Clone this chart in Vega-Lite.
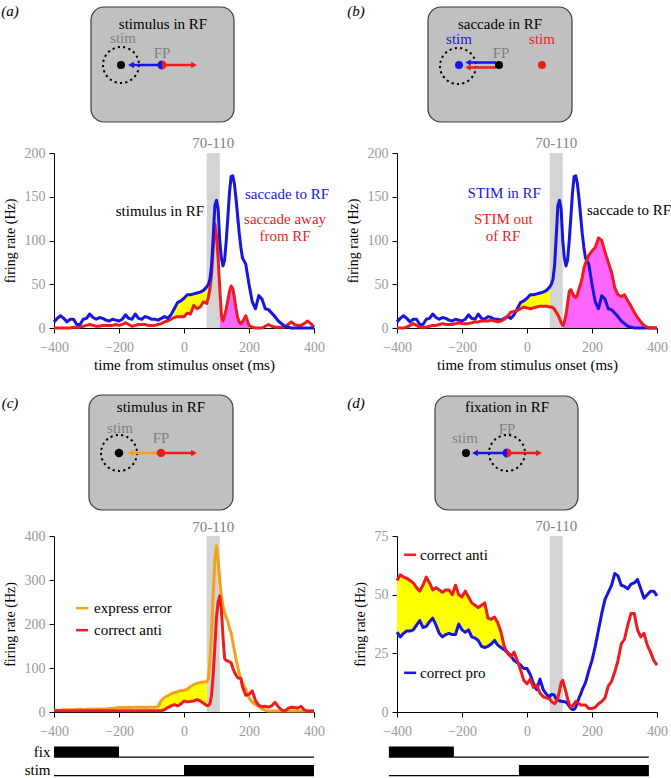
{
"$schema":"https://vega.github.io/schema/vega-lite/v6.json",
"padding":0,
"background":"white",
"columns":2,
"bounds":"flush",
"align":"each",
"spacing":{"row":0,"column":83},
"config":{
 "view":{"stroke":null},
 "font":"Liberation Serif",
 "axis":{"domainColor":"#000","tickColor":"#000","labelColor":"#999999","labelFont":"Liberation Serif","labelFontSize":14,"titleFont":"Liberation Serif","titleFontSize":14,"titleFontWeight":"normal","titleColor":"#000","grid":false,"tickSize":5,"labelPadding":4},
 "axisX":{"titlePadding":3,"labelPadding":7,"titleFontSize":15,"labelFlush":false},
 "axisY":{"titlePadding":7},
 "text":{"font":"Liberation Serif"}
},
"datasets":{
 "ab":[
{"t":-400,"blue":7,"redA":0,"redB":0},{"t":-390,"blue":11,"redA":0,"redB":0},{"t":-380,"blue":14,"redA":0,"redB":0},{"t":-370,"blue":11,"redA":0,"redB":1},{"t":-360,"blue":7,"redA":0,"redB":3},{"t":-350,"blue":10,"redA":0,"redB":5},{"t":-340,"blue":10,"redA":1,"redB":3},{"t":-330,"blue":4,"redA":1,"redB":1},{"t":-320,"blue":4,"redA":1,"redB":1},{"t":-310,"blue":10,"redA":2,"redB":1},{"t":-300,"blue":11,"redA":3,"redB":2},{"t":-290,"blue":16,"redA":4,"redB":3},{"t":-280,"blue":12,"redA":3,"redB":3},{"t":-270,"blue":10,"redA":2,"redB":4},{"t":-260,"blue":12,"redA":2,"redB":5},{"t":-250,"blue":11,"redA":3,"redB":4},{"t":-240,"blue":9,"redA":3,"redB":4},{"t":-230,"blue":8,"redA":3,"redB":4},{"t":-220,"blue":10,"redA":3,"redB":5},{"t":-210,"blue":9,"redA":4,"redB":6},{"t":-200,"blue":8,"redA":3,"redB":5},{"t":-190,"blue":10,"redA":4,"redB":5},{"t":-180,"blue":15,"redA":6,"redB":5},{"t":-170,"blue":11,"redA":4,"redB":6},{"t":-160,"blue":10,"redA":2,"redB":7},{"t":-150,"blue":16,"redA":3,"redB":7},{"t":-140,"blue":11,"redA":4,"redB":8},{"t":-130,"blue":10,"redA":4,"redB":8},{"t":-120,"blue":13,"redA":4,"redB":8},{"t":-110,"blue":12,"redA":3,"redB":9},{"t":-100,"blue":10,"redA":3,"redB":8},{"t":-90,"blue":10,"redA":3,"redB":7},{"t":-80,"blue":9,"redA":4,"redB":8},{"t":-70,"blue":11,"redA":5,"redB":10},{"t":-60,"blue":13,"redA":7,"redB":13},{"t":-50,"blue":11,"redA":8,"redB":18},{"t":-40,"blue":15,"redA":10,"redB":19},{"t":-30,"blue":22,"redA":12,"redB":20},{"t":-20,"blue":29,"redA":13,"redB":22},{"t":-10,"blue":31,"redA":13,"redB":24},{"t":0,"blue":34,"redA":13,"redB":23},{"t":10,"blue":38,"redA":17,"redB":22},{"t":20,"blue":38,"redA":16,"redB":23},{"t":30,"blue":39,"redA":26,"redB":24},{"t":40,"blue":40,"redA":22,"redB":25},{"t":50,"blue":41,"redA":24,"redB":25},{"t":60,"blue":43,"redA":30,"redB":25},{"t":70,"blue":47,"redA":28,"redB":24},
{"t":75,"blue":50,"redA":35,"redB":24},{"t":80,"blue":56,"redA":45,"redB":23},{"t":85,"blue":72,"redA":62,"redB":21},{"t":90,"blue":105,"redA":92,"redB":18},{"t":95,"blue":140,"redA":119,"redB":15},{"t":100,"blue":146,"redA":105,"redB":11},{"t":105,"blue":136,"redA":80,"redB":6},{"t":110,"blue":100,"redA":45,"redB":3},{"t":115,"blue":80,"redA":15,"redB":7},{"t":120,"blue":71,"redA":8,"redB":15},{"t":125,"blue":78,"redA":14,"redB":28},{"t":130,"blue":100,"redA":22,"redB":42},{"t":135,"blue":127,"redA":32,"redB":44},{"t":140,"blue":155,"redA":42,"redB":40},{"t":145,"blue":173,"redA":48,"redB":36},{"t":150,"blue":174,"redA":45,"redB":35},{"t":155,"blue":165,"redA":35,"redB":38},{"t":160,"blue":148,"redA":22,"redB":45},{"t":165,"blue":128,"redA":12,"redB":50},{"t":170,"blue":108,"redA":7,"redB":58},{"t":175,"blue":92,"redA":5,"redB":68},
{"t":180,"blue":80,"redA":7,"redB":74},{"t":190,"blue":73,"redA":14,"redB":83},{"t":200,"blue":50,"redA":3,"redB":88},{"t":210,"blue":30,"redA":1,"redB":92},{"t":220,"blue":22,"redA":0,"redB":103},{"t":230,"blue":37,"redA":0,"redB":100},{"t":240,"blue":33,"redA":0,"redB":87},{"t":250,"blue":22,"redA":2,"redB":75},{"t":260,"blue":21,"redA":4,"redB":64},{"t":270,"blue":17,"redA":2,"redB":46},{"t":280,"blue":13,"redA":1,"redB":38},{"t":290,"blue":8,"redA":1,"redB":36},{"t":300,"blue":5,"redA":1,"redB":38},{"t":310,"blue":2,"redA":1,"redB":31},{"t":320,"blue":1,"redA":4,"redB":25},{"t":330,"blue":0,"redA":7,"redB":18},{"t":340,"blue":0,"redA":4,"redB":12},{"t":350,"blue":0,"redA":3,"redB":7},{"t":360,"blue":0,"redA":3,"redB":3},{"t":370,"blue":0,"redA":5,"redB":1},{"t":380,"blue":0,"redA":8,"redB":0},{"t":390,"blue":0,"redA":5,"redB":0},{"t":400,"blue":0,"redA":1,"redB":0}
 ],
 "c":[
{"t":-400,"orange":4,"red":3},{"t":-390,"orange":4,"red":3},{"t":-380,"orange":4,"red":3},{"t":-370,"orange":5,"red":3},{"t":-360,"orange":5,"red":3},{"t":-350,"orange":5,"red":3},{"t":-340,"orange":5,"red":3},{"t":-330,"orange":6,"red":3},{"t":-320,"orange":6,"red":3},{"t":-310,"orange":5,"red":3},{"t":-300,"orange":6,"red":3},{"t":-290,"orange":6,"red":3},{"t":-280,"orange":7,"red":3},{"t":-270,"orange":6,"red":3},{"t":-260,"orange":7,"red":3},{"t":-250,"orange":7,"red":3},{"t":-240,"orange":7,"red":3},{"t":-230,"orange":8,"red":3},{"t":-220,"orange":8,"red":3},{"t":-210,"orange":9,"red":3},{"t":-200,"orange":10,"red":3},{"t":-190,"orange":10,"red":3},{"t":-180,"orange":10,"red":3},{"t":-170,"orange":11,"red":3},{"t":-160,"orange":10,"red":3},{"t":-150,"orange":11,"red":3},{"t":-140,"orange":11,"red":3},{"t":-130,"orange":11,"red":3},{"t":-120,"orange":10,"red":3},{"t":-110,"orange":11,"red":3},{"t":-100,"orange":11,"red":3},{"t":-90,"orange":11,"red":3},{"t":-80,"orange":12,"red":3},{"t":-70,"orange":26,"red":3},{"t":-60,"orange":33,"red":5},{"t":-50,"orange":37,"red":10},{"t":-40,"orange":41,"red":14},{"t":-30,"orange":44,"red":17},{"t":-20,"orange":46,"red":14},{"t":-10,"orange":49,"red":18},{"t":0,"orange":49,"red":25},{"t":10,"orange":52,"red":23},{"t":20,"orange":58,"red":24},{"t":30,"orange":62,"red":25},{"t":40,"orange":65,"red":28},{"t":50,"orange":67,"red":25},{"t":60,"orange":68,"red":20},{"t":70,"orange":69,"red":15},
{"t":75,"orange":75,"red":15},{"t":80,"orange":120,"red":19},{"t":85,"orange":185,"red":40},{"t":90,"orange":270,"red":87},{"t":95,"orange":345,"red":150},{"t":100,"orange":378,"red":216},{"t":105,"orange":345,"red":250},{"t":110,"orange":300,"red":264},{"t":115,"orange":265,"red":232},{"t":120,"orange":240,"red":170},{"t":125,"orange":225,"red":122},{"t":130,"orange":215,"red":117},{"t":135,"orange":205,"red":116},{"t":140,"orange":190,"red":114},{"t":145,"orange":180,"red":112},{"t":150,"orange":160,"red":100},{"t":155,"orange":140,"red":91},{"t":160,"orange":120,"red":84},{"t":165,"orange":103,"red":78},{"t":170,"orange":88,"red":77},{"t":175,"orange":76,"red":76},
{"t":180,"orange":66,"red":57},{"t":190,"orange":52,"red":38},{"t":200,"orange":32,"red":40},{"t":210,"orange":22,"red":48},{"t":220,"orange":17,"red":26},{"t":230,"orange":13,"red":15},{"t":240,"orange":7,"red":12},{"t":250,"orange":4,"red":13},{"t":260,"orange":2,"red":11},{"t":270,"orange":2,"red":14},{"t":280,"orange":2,"red":22},{"t":290,"orange":2,"red":12},{"t":300,"orange":2,"red":5},{"t":310,"orange":2,"red":2},{"t":320,"orange":2,"red":8},{"t":330,"orange":2,"red":11},{"t":340,"orange":2,"red":10},{"t":350,"orange":2,"red":9},{"t":360,"orange":2,"red":13},{"t":370,"orange":2,"red":5},{"t":380,"orange":2,"red":2},{"t":390,"orange":2,"red":2},{"t":400,"orange":2,"red":2}
 ],
 "d":[
{"t":-400,"red":56,"blue":34},{"t":-390,"red":58.5,"blue":32},{"t":-380,"red":57.5,"blue":33.5},{"t":-370,"red":57,"blue":34.5},{"t":-360,"red":56,"blue":34.5},{"t":-350,"red":55,"blue":35},{"t":-340,"red":53,"blue":37},{"t":-330,"red":51.5,"blue":39},{"t":-320,"red":54,"blue":36},{"t":-310,"red":57.5,"blue":36.5},{"t":-300,"red":55,"blue":38.5},{"t":-290,"red":52,"blue":40},{"t":-280,"red":53,"blue":37},{"t":-270,"red":52,"blue":33.5},{"t":-260,"red":51,"blue":32},{"t":-250,"red":52,"blue":33},{"t":-240,"red":52,"blue":33.5},{"t":-230,"red":50,"blue":33},{"t":-220,"red":54,"blue":33},{"t":-210,"red":50,"blue":37.5},{"t":-200,"red":49,"blue":35},{"t":-190,"red":51.5,"blue":34},{"t":-180,"red":49,"blue":35},{"t":-170,"red":46.5,"blue":32},{"t":-160,"red":45.5,"blue":31.5},{"t":-150,"red":44.5,"blue":30.5},{"t":-140,"red":45.5,"blue":28},{"t":-130,"red":46.5,"blue":27.5},{"t":-120,"red":40,"blue":28},{"t":-110,"red":39.5,"blue":29},{"t":-100,"red":40.5,"blue":30.5},{"t":-90,"red":38,"blue":28.5},{"t":-80,"red":34,"blue":27.5},{"t":-70,"red":28,"blue":26.5},{"t":-60,"red":25,"blue":25.5},{"t":-50,"red":23.5,"blue":24},{"t":-40,"red":25.5,"blue":22},{"t":-30,"red":22,"blue":21},{"t":-20,"red":18,"blue":20},{"t":-10,"red":13.5,"blue":18.5},{"t":0,"red":12,"blue":18.5},{"t":10,"red":14,"blue":16},{"t":20,"red":10.5,"blue":12},{"t":30,"red":11.5,"blue":9.5},{"t":40,"red":8,"blue":14},{"t":50,"red":6.5,"blue":9.5},{"t":60,"red":6,"blue":7.5},{"t":70,"red":5.5,"blue":6.5},
{"t":75,"red":4.5,"blue":7.5},{"t":80,"red":4,"blue":7.5},{"t":85,"red":3.5,"blue":7},{"t":90,"red":4.5,"blue":5.5},{"t":95,"red":6,"blue":5},{"t":100,"red":9,"blue":4.8},{"t":105,"red":12.5,"blue":4.6},{"t":110,"red":13.5,"blue":4.5},{"t":115,"red":11,"blue":4.4},{"t":120,"red":8.5,"blue":4.2},{"t":125,"red":5.5,"blue":3.5},{"t":130,"red":3.5,"blue":2.5},{"t":135,"red":2,"blue":1.5},{"t":140,"red":2.5,"blue":1},{"t":145,"red":3.5,"blue":1.2},{"t":150,"red":4.5,"blue":2},{"t":155,"red":4,"blue":4},{"t":160,"red":3.5,"blue":6},{"t":165,"red":3,"blue":7.5},{"t":170,"red":3,"blue":9.5},{"t":175,"red":3,"blue":11},
{"t":180,"red":3,"blue":12.5},{"t":190,"red":1.5,"blue":17.5},{"t":200,"red":1.5,"blue":22},{"t":210,"red":2,"blue":28},{"t":220,"red":3.5,"blue":35},{"t":230,"red":4.5,"blue":42},{"t":240,"red":6,"blue":48},{"t":250,"red":11,"blue":51},{"t":260,"red":13,"blue":54},{"t":270,"red":17,"blue":59},{"t":280,"red":22,"blue":58},{"t":290,"red":29,"blue":54},{"t":300,"red":31,"blue":53.5},{"t":310,"red":37,"blue":52.5},{"t":320,"red":42,"blue":54.5},{"t":330,"red":42,"blue":55},{"t":340,"red":35,"blue":56.5},{"t":350,"red":32,"blue":52.5},{"t":360,"red":33.5,"blue":48.5},{"t":370,"red":28.5,"blue":50},{"t":380,"red":25.5,"blue":51.5},{"t":390,"red":22,"blue":51.5},{"t":400,"red":20,"blue":49.5}
 ],
 "band":[{"start":70,"end":110}],
 "timeline":[
  {"signal":"fix","start":-400,"end":-200,"state":"on"},
  {"signal":"fix","start":-200,"end":400,"state":"off"},
  {"signal":"stim","start":-400,"end":0,"state":"off"},
  {"signal":"stim","start":0,"end":400,"state":"on"}
 ],
 "schemA":[
  {"kind":"anchor","x":0,"x2":1,"y":0,"y2":1},
  {"kind":"box","x":91,"x2":234,"y":7,"y2":122},
  {"kind":"ring","x":121,"y":65},
  {"kind":"arrow","x":162,"x2":131,"y":65,"hue":"blue","dir":"left"},
  {"kind":"arrow","x":162,"x2":194,"y":65,"hue":"red","dir":"right"},
  {"kind":"dot","x":121,"y":65,"hue":"black"},
  {"kind":"half","x":162,"y":65,"hue":"blue","side":"L"},
  {"kind":"half","x":162,"y":65,"hue":"red","side":"R"},
  {"kind":"text","x":163,"y":24,"text":"stimulus in RF","hue":"black"},
  {"kind":"text","x":123,"y":38,"text":"stim","hue":"gray"},
  {"kind":"text","x":162,"y":53,"text":"FP","hue":"gray"},
  {"kind":"tag","x":10,"y":11,"text":"(a)"}
 ],
 "schemB":[
  {"kind":"box","x":428,"x2":572,"y":7,"y2":122},
  {"kind":"ring","x":458,"y":66},
  {"kind":"arrow","x":496,"x2":468,"y":62.5,"hue":"blue","dir":"left"},
  {"kind":"arrow","x":496,"x2":468,"y":67.5,"hue":"red","dir":"left"},
  {"kind":"dot","x":459,"y":65,"hue":"blue"},
  {"kind":"dot","x":499,"y":65,"hue":"black"},
  {"kind":"dot","x":542,"y":65,"hue":"red"},
  {"kind":"text","x":500,"y":24,"text":"saccade in RF","hue":"black"},
  {"kind":"text","x":459,"y":39,"text":"stim","hue":"blue"},
  {"kind":"text","x":542,"y":39,"text":"stim","hue":"red"},
  {"kind":"text","x":501,"y":53,"text":"FP","hue":"gray"},
  {"kind":"tag","x":356,"y":11,"text":"(b)"}
 ],
 "schemC":[
  {"kind":"box","x":89,"x2":233,"y":395,"y2":510},
  {"kind":"ring","x":119,"y":453},
  {"kind":"arrow","x":161,"x2":131,"y":453,"hue":"orange","dir":"left"},
  {"kind":"arrow","x":161,"x2":194,"y":453,"hue":"red","dir":"right"},
  {"kind":"dot","x":119,"y":453,"hue":"black"},
  {"kind":"dot","x":161,"y":453,"hue":"red"},
  {"kind":"text","x":161,"y":407,"text":"stimulus in RF","hue":"black"},
  {"kind":"text","x":120,"y":428,"text":"stim","hue":"gray"},
  {"kind":"text","x":161,"y":438,"text":"FP","hue":"gray"},
  {"kind":"tag","x":10,"y":403,"text":"(c)"}
 ],
 "schemD":[
  {"kind":"box","x":435,"x2":578,"y":396,"y2":510},
  {"kind":"ring","x":507,"y":453},
  {"kind":"arrow","x":507,"x2":475,"y":453,"hue":"blue","dir":"left"},
  {"kind":"arrow","x":507,"x2":539,"y":453,"hue":"red","dir":"right"},
  {"kind":"dot","x":466,"y":453,"hue":"black"},
  {"kind":"half","x":507,"y":453,"hue":"blue","side":"L"},
  {"kind":"half","x":507,"y":453,"hue":"red","side":"R"},
  {"kind":"text","x":507,"y":407,"text":"fixation in RF","hue":"black"},
  {"kind":"text","x":465,"y":438,"text":"stim","hue":"gray"},
  {"kind":"text","x":507,"y":429,"text":"FP","hue":"gray"},
  {"kind":"tag","x":356,"y":403,"text":"(d)"}
 ]
},
"concat":[
 {
  "width":260,"height":153,
  "data":{"name":"schemA"},
  "resolve":{"scale":{"shape":"independent"}},
  "encoding":{
   "x":{"field":"x","type":"quantitative","scale":{"domain":[54,314],"nice":false,"zero":false},"axis":null},
   "y":{"field":"y","type":"quantitative","scale":{"domain":[0,153],"nice":false,"zero":false,"reverse":true},"axis":null}
  },
  "layer":[
   {"transform":[{"filter":"datum.kind==='anchor'"}],"mark":{"type":"rect","opacity":0},"encoding":{"x2":{"field":"x2"},"y2":{"field":"y2"}}},
   {"transform":[{"filter":"datum.kind==='box'"}],"mark":{"type":"rect","fill":"#c0c0c0","stroke":"#3c3c3c","strokeWidth":1.2,"cornerRadius":13},"encoding":{"x2":{"field":"x2"},"y2":{"field":"y2"}}},
   {"transform":[{"filter":"datum.kind==='ring'"}],"mark":{"type":"point","shape":"circle","size":1296,"filled":false,"stroke":"#000","strokeWidth":2,"strokeDash":[2.2,3.2],"opacity":1}},
   {"transform":[{"filter":"datum.kind==='arrow'"}],"mark":{"type":"rule","strokeWidth":2.5},"encoding":{"x2":{"field":"x2"},"color":{"field":"hue","type":"nominal","scale":{"domain":["blue","red","orange","gray","black"],"range":["#1616e0","#ee1c1c","#f5a01a","#808080","#000000"]},"legend":null}}},
   {"transform":[{"filter":"datum.kind==='arrow'"}],"mark":{"type":"point","filled":true,"opacity":1,"size":45},"encoding":{"x":{"field":"x2","type":"quantitative"},"color":{"field":"hue","type":"nominal","scale":{"domain":["blue","red","orange","gray","black"],"range":["#1616e0","#ee1c1c","#f5a01a","#808080","#000000"]},"legend":null},"shape":{"field":"dir","type":"nominal","scale":{"domain":["left","right"],"range":["triangle-left","triangle-right"]},"legend":null}}},
   {"transform":[{"filter":"datum.kind==='dot'"}],"mark":{"type":"point","filled":true,"opacity":1,"size":64,"shape":"circle"},"encoding":{"color":{"field":"hue","type":"nominal","scale":{"domain":["blue","red","orange","gray","black"],"range":["#1616e0","#ee1c1c","#f5a01a","#808080","#000000"]},"legend":null}}},
   {"transform":[{"filter":"datum.kind==='half'"}],"mark":{"type":"point","filled":true,"opacity":1,"size":81},"encoding":{"color":{"field":"hue","type":"nominal","scale":{"domain":["blue","red","orange","gray","black"],"range":["#1616e0","#ee1c1c","#f5a01a","#808080","#000000"]},"legend":null},"shape":{"field":"side","type":"nominal","scale":{"domain":["L","R"],"range":["M0,-1A1,1,0,0,0,0,1Z","M0,-1A1,1,0,0,1,0,1Z"]},"legend":null}}},
   {"transform":[{"filter":"datum.kind==='text'"}],"mark":{"type":"text","fontSize":15,"baseline":"middle"},"encoding":{"text":{"field":"text"},"color":{"field":"hue","type":"nominal","scale":{"domain":["blue","red","orange","gray","black"],"range":["#1616e0","#ee1c1c","#f5a01a","#808080","#000000"]},"legend":null}}},
   {"transform":[{"filter":"datum.kind==='tag'"}],"mark":{"type":"text","fontSize":15,"fontStyle":"italic","baseline":"middle","color":"#000"},"encoding":{"text":{"field":"text"}}}
  ]
 },
 {
  "width":260,"height":153,
  "data":{"name":"schemB"},
  "resolve":{"scale":{"shape":"independent"}},
  "encoding":{
   "x":{"field":"x","type":"quantitative","scale":{"domain":[397,657],"nice":false,"zero":false},"axis":null},
   "y":{"field":"y","type":"quantitative","scale":{"domain":[0,153],"nice":false,"zero":false,"reverse":true},"axis":null}
  },
  "layer":[
   {"transform":[{"filter":"datum.kind==='box'"}],"mark":{"type":"rect","fill":"#c0c0c0","stroke":"#3c3c3c","strokeWidth":1.2,"cornerRadius":13},"encoding":{"x2":{"field":"x2"},"y2":{"field":"y2"}}},
   {"transform":[{"filter":"datum.kind==='ring'"}],"mark":{"type":"point","shape":"circle","size":1296,"filled":false,"stroke":"#000","strokeWidth":2,"strokeDash":[2.2,3.2],"opacity":1}},
   {"transform":[{"filter":"datum.kind==='arrow'"}],"mark":{"type":"rule","strokeWidth":2.5},"encoding":{"x2":{"field":"x2"},"color":{"field":"hue","type":"nominal","scale":{"domain":["blue","red","orange","gray","black"],"range":["#1616e0","#ee1c1c","#f5a01a","#808080","#000000"]},"legend":null}}},
   {"transform":[{"filter":"datum.kind==='arrow'"}],"mark":{"type":"point","filled":true,"opacity":1,"size":36},"encoding":{"x":{"field":"x2","type":"quantitative"},"color":{"field":"hue","type":"nominal","scale":{"domain":["blue","red","orange","gray","black"],"range":["#1616e0","#ee1c1c","#f5a01a","#808080","#000000"]},"legend":null},"shape":{"field":"dir","type":"nominal","scale":{"domain":["left","right"],"range":["triangle-left","triangle-right"]},"legend":null}}},
   {"transform":[{"filter":"datum.kind==='dot'"}],"mark":{"type":"point","filled":true,"opacity":1,"size":64,"shape":"circle"},"encoding":{"color":{"field":"hue","type":"nominal","scale":{"domain":["blue","red","orange","gray","black"],"range":["#1616e0","#ee1c1c","#f5a01a","#808080","#000000"]},"legend":null}}},
   {"transform":[{"filter":"datum.kind==='text'"}],"mark":{"type":"text","fontSize":15,"baseline":"middle"},"encoding":{"text":{"field":"text"},"color":{"field":"hue","type":"nominal","scale":{"domain":["blue","red","orange","gray","black"],"range":["#1616e0","#ee1c1c","#f5a01a","#808080","#000000"]},"legend":null}}},
   {"transform":[{"filter":"datum.kind==='tag'"}],"mark":{"type":"text","fontSize":15,"fontStyle":"italic","baseline":"middle","color":"#000"},"encoding":{"text":{"field":"text"}}}
  ]
 },
 {
  "width":260,"height":175,
  "layer":[
   {"data":{"name":"band"},"mark":{"type":"rect","color":"#d4d4d4"},"encoding":{"x":{"field":"start","type":"quantitative","title":"time from stimulus onset (ms)","scale":{"domain":[-400,400],"nice":false},"axis":{"values":[-400,-200,0,200,400]}},"x2":{"field":"end"}}},
   {"data":{"name":"ab"},"transform":[{"filter":"datum.t>=-30 && datum.t<=70"}],"mark":{"type":"area","color":"#ffff00","opacity":1},"encoding":{"x":{"field":"t","type":"quantitative","title":"time from stimulus onset (ms)"},"y":{"field":"blue","type":"quantitative","title":"firing rate (Hz)","scale":{"domain":[0,200],"nice":false},"axis":{"values":[0,50,100,150,200]}},"y2":{"field":"redA"}}},
   {"data":{"name":"ab"},"transform":[{"filter":"datum.t>=110 && datum.t<=200"}],"mark":{"type":"area","color":"#ff66ff","opacity":1},"encoding":{"x":{"field":"t","type":"quantitative","title":"time from stimulus onset (ms)"},"y":{"field":"redA","type":"quantitative","title":"firing rate (Hz)"},"y2":{"datum":0}}},
   {"data":{"name":"ab"},"mark":{"type":"line","color":"#ee1c1c","strokeWidth":3,"strokeJoin":"round"},"encoding":{"x":{"field":"t","type":"quantitative","title":"time from stimulus onset (ms)"},"y":{"field":"redA","type":"quantitative","title":"firing rate (Hz)"}}},
   {"data":{"name":"ab"},"mark":{"type":"line","color":"#1616e0","strokeWidth":3,"strokeJoin":"round"},"encoding":{"x":{"field":"t","type":"quantitative","title":"time from stimulus onset (ms)"},"y":{"field":"blue","type":"quantitative","title":"firing rate (Hz)"}}},
   {"data":{"values":[
     {"t":90,"v":211,"text":"70-110","hue":"gray"},
     {"t":-74,"v":134,"text":"stimulus in RF","hue":"black"},
     {"t":317,"v":153,"text":"saccade to RF","hue":"blue"},
     {"t":311,"v":125,"text":"saccade away","hue":"red"},
     {"t":311,"v":105.5,"text":"from RF","hue":"red"}
    ]},
    "mark":{"type":"text","fontSize":15,"baseline":"middle"},
    "encoding":{"x":{"field":"t","type":"quantitative","title":"time from stimulus onset (ms)"},"y":{"field":"v","type":"quantitative","title":"firing rate (Hz)"},"text":{"field":"text"},"color":{"field":"hue","type":"nominal","scale":{"domain":["blue","red","orange","gray","black"],"range":["#1616e0","#ee1c1c","#f5a01a","#909090","#000000"]},"legend":null}}}
  ]
 },
 {
  "width":260,"height":175,
  "layer":[
   {"data":{"name":"band"},"mark":{"type":"rect","color":"#d4d4d4"},"encoding":{"x":{"field":"start","type":"quantitative","title":"time from stimulus onset (ms)","scale":{"domain":[-400,400],"nice":false},"axis":{"values":[-400,-200,0,200,400]}},"x2":{"field":"end"}}},
   {"data":{"name":"ab"},"transform":[{"filter":"datum.t>=-30 && datum.t<=70"}],"mark":{"type":"area","color":"#ffff00","opacity":1},"encoding":{"x":{"field":"t","type":"quantitative","title":"time from stimulus onset (ms)"},"y":{"field":"blue","type":"quantitative","title":"firing rate (Hz)","scale":{"domain":[0,200],"nice":false},"axis":{"values":[0,50,100,150,200]}},"y2":{"field":"redB"}}},
   {"data":{"name":"ab"},"transform":[{"filter":"datum.t>=110"}],"mark":{"type":"area","color":"#ff66ff","opacity":1},"encoding":{"x":{"field":"t","type":"quantitative","title":"time from stimulus onset (ms)"},"y":{"field":"redB","type":"quantitative","title":"firing rate (Hz)"},"y2":{"datum":0}}},
   {"data":{"name":"ab"},"mark":{"type":"line","color":"#1616e0","strokeWidth":3,"strokeJoin":"round"},"encoding":{"x":{"field":"t","type":"quantitative","title":"time from stimulus onset (ms)"},"y":{"field":"blue","type":"quantitative","title":"firing rate (Hz)"}}},
   {"data":{"name":"ab"},"mark":{"type":"line","color":"#ee1c1c","strokeWidth":3,"strokeJoin":"round"},"encoding":{"x":{"field":"t","type":"quantitative","title":"time from stimulus onset (ms)"},"y":{"field":"redB","type":"quantitative","title":"firing rate (Hz)"}}},
   {"data":{"values":[
     {"t":90,"v":211,"text":"70-110","hue":"gray"},
     {"t":-70,"v":154,"text":"STIM in RF","hue":"blue"},
     {"t":-73,"v":125,"text":"STIM out","hue":"red"},
     {"t":-74,"v":105.5,"text":"of RF","hue":"red"},
     {"t":314,"v":134.5,"text":"saccade to RF","hue":"black"}
    ]},
    "mark":{"type":"text","fontSize":15,"baseline":"middle"},
    "encoding":{"x":{"field":"t","type":"quantitative","title":"time from stimulus onset (ms)"},"y":{"field":"v","type":"quantitative","title":"firing rate (Hz)"},"text":{"field":"text"},"color":{"field":"hue","type":"nominal","scale":{"domain":["blue","red","orange","gray","black"],"range":["#1616e0","#ee1c1c","#f5a01a","#909090","#000000"]},"legend":null}}}
  ]
 },
 {
  "width":260,"height":208,
  "data":{"name":"schemC"},
  "resolve":{"scale":{"shape":"independent"}},
  "encoding":{
   "x":{"field":"x","type":"quantitative","scale":{"domain":[54,314],"nice":false,"zero":false},"axis":null},
   "y":{"field":"y","type":"quantitative","scale":{"domain":[328,536],"nice":false,"zero":false,"reverse":true},"axis":null}
  },
  "layer":[
   {"transform":[{"filter":"datum.kind==='box'"}],"mark":{"type":"rect","fill":"#c0c0c0","stroke":"#3c3c3c","strokeWidth":1.2,"cornerRadius":13},"encoding":{"x2":{"field":"x2"},"y2":{"field":"y2"}}},
   {"transform":[{"filter":"datum.kind==='ring'"}],"mark":{"type":"point","shape":"circle","size":1296,"filled":false,"stroke":"#000","strokeWidth":2,"strokeDash":[2.2,3.2],"opacity":1}},
   {"transform":[{"filter":"datum.kind==='arrow'"}],"mark":{"type":"rule","strokeWidth":2.5},"encoding":{"x2":{"field":"x2"},"color":{"field":"hue","type":"nominal","scale":{"domain":["blue","red","orange","gray","black"],"range":["#1616e0","#ee1c1c","#f5a01a","#808080","#000000"]},"legend":null}}},
   {"transform":[{"filter":"datum.kind==='arrow'"}],"mark":{"type":"point","filled":true,"opacity":1,"size":45},"encoding":{"x":{"field":"x2","type":"quantitative"},"color":{"field":"hue","type":"nominal","scale":{"domain":["blue","red","orange","gray","black"],"range":["#1616e0","#ee1c1c","#f5a01a","#808080","#000000"]},"legend":null},"shape":{"field":"dir","type":"nominal","scale":{"domain":["left","right"],"range":["triangle-left","triangle-right"]},"legend":null}}},
   {"transform":[{"filter":"datum.kind==='dot'"}],"mark":{"type":"point","filled":true,"opacity":1,"size":72,"shape":"circle"},"encoding":{"color":{"field":"hue","type":"nominal","scale":{"domain":["blue","red","orange","gray","black"],"range":["#1616e0","#ee1c1c","#f5a01a","#808080","#000000"]},"legend":null}}},
   {"transform":[{"filter":"datum.kind==='text'"}],"mark":{"type":"text","fontSize":15,"baseline":"middle"},"encoding":{"text":{"field":"text"},"color":{"field":"hue","type":"nominal","scale":{"domain":["blue","red","orange","gray","black"],"range":["#1616e0","#ee1c1c","#f5a01a","#808080","#000000"]},"legend":null}}},
   {"transform":[{"filter":"datum.kind==='tag'"}],"mark":{"type":"text","fontSize":15,"fontStyle":"italic","baseline":"middle","color":"#000"},"encoding":{"text":{"field":"text"}}}
  ]
 },
 {
  "width":260,"height":208,
  "data":{"name":"schemD"},
  "resolve":{"scale":{"shape":"independent"}},
  "encoding":{
   "x":{"field":"x","type":"quantitative","scale":{"domain":[397,657],"nice":false,"zero":false},"axis":null},
   "y":{"field":"y","type":"quantitative","scale":{"domain":[328,536],"nice":false,"zero":false,"reverse":true},"axis":null}
  },
  "layer":[
   {"transform":[{"filter":"datum.kind==='box'"}],"mark":{"type":"rect","fill":"#c0c0c0","stroke":"#3c3c3c","strokeWidth":1.2,"cornerRadius":13},"encoding":{"x2":{"field":"x2"},"y2":{"field":"y2"}}},
   {"transform":[{"filter":"datum.kind==='ring'"}],"mark":{"type":"point","shape":"circle","size":1296,"filled":false,"stroke":"#000","strokeWidth":2,"strokeDash":[2.2,3.2],"opacity":1}},
   {"transform":[{"filter":"datum.kind==='arrow'"}],"mark":{"type":"rule","strokeWidth":2.5},"encoding":{"x2":{"field":"x2"},"color":{"field":"hue","type":"nominal","scale":{"domain":["blue","red","orange","gray","black"],"range":["#1616e0","#ee1c1c","#f5a01a","#808080","#000000"]},"legend":null}}},
   {"transform":[{"filter":"datum.kind==='arrow'"}],"mark":{"type":"point","filled":true,"opacity":1,"size":45},"encoding":{"x":{"field":"x2","type":"quantitative"},"color":{"field":"hue","type":"nominal","scale":{"domain":["blue","red","orange","gray","black"],"range":["#1616e0","#ee1c1c","#f5a01a","#808080","#000000"]},"legend":null},"shape":{"field":"dir","type":"nominal","scale":{"domain":["left","right"],"range":["triangle-left","triangle-right"]},"legend":null}}},
   {"transform":[{"filter":"datum.kind==='dot'"}],"mark":{"type":"point","filled":true,"opacity":1,"size":64,"shape":"circle"},"encoding":{"color":{"field":"hue","type":"nominal","scale":{"domain":["blue","red","orange","gray","black"],"range":["#1616e0","#ee1c1c","#f5a01a","#808080","#000000"]},"legend":null}}},
   {"transform":[{"filter":"datum.kind==='half'"}],"mark":{"type":"point","filled":true,"opacity":1,"size":81},"encoding":{"color":{"field":"hue","type":"nominal","scale":{"domain":["blue","red","orange","gray","black"],"range":["#1616e0","#ee1c1c","#f5a01a","#808080","#000000"]},"legend":null},"shape":{"field":"side","type":"nominal","scale":{"domain":["L","R"],"range":["M0,-1A1,1,0,0,0,0,1Z","M0,-1A1,1,0,0,1,0,1Z"]},"legend":null}}},
   {"transform":[{"filter":"datum.kind==='text'"}],"mark":{"type":"text","fontSize":15,"baseline":"middle"},"encoding":{"text":{"field":"text"},"color":{"field":"hue","type":"nominal","scale":{"domain":["blue","red","orange","gray","black"],"range":["#1616e0","#ee1c1c","#f5a01a","#808080","#000000"]},"legend":null}}},
   {"transform":[{"filter":"datum.kind==='tag'"}],"mark":{"type":"text","fontSize":15,"fontStyle":"italic","baseline":"middle","color":"#000"},"encoding":{"text":{"field":"text"}}}
  ]
 },
 {
  "width":260,"height":176,
  "layer":[
   {"data":{"name":"band"},"mark":{"type":"rect","color":"#d4d4d4"},"encoding":{"x":{"field":"start","type":"quantitative","title":null,"scale":{"domain":[-400,400],"nice":false},"axis":{"values":[-400,-200,0,200,400]}},"x2":{"field":"end"}}},
   {"data":{"name":"c"},"transform":[{"filter":"datum.t>=-80 && datum.t<=70"}],"mark":{"type":"area","color":"#ffff00","opacity":1},"encoding":{"x":{"field":"t","type":"quantitative","title":null},"y":{"field":"orange","type":"quantitative","title":"firing rate (Hz)","scale":{"domain":[0,400],"nice":false},"axis":{"values":[0,100,200,300,400]}},"y2":{"field":"red"}}},
   {"data":{"name":"c"},"mark":{"type":"line","color":"#f5a01a","strokeWidth":3,"strokeJoin":"round"},"encoding":{"x":{"field":"t","type":"quantitative","title":null},"y":{"field":"orange","type":"quantitative","title":"firing rate (Hz)"}}},
   {"data":{"name":"c"},"mark":{"type":"line","color":"#ee1c1c","strokeWidth":3,"strokeJoin":"round"},"encoding":{"x":{"field":"t","type":"quantitative","title":null},"y":{"field":"red","type":"quantitative","title":"firing rate (Hz)"}}},
   {"data":{"values":[
     {"t":-332,"t2":-295,"v":236,"hue":"orange"},
     {"t":-332,"t2":-295,"v":186,"hue":"red"}
    ]},
    "mark":{"type":"rule","strokeWidth":2.5},
    "encoding":{"x":{"field":"t","type":"quantitative","title":null},"x2":{"field":"t2"},"y":{"field":"v","type":"quantitative","title":"firing rate (Hz)"},"color":{"field":"hue","type":"nominal","scale":{"domain":["blue","red","orange","gray","black"],"range":["#1616e0","#ee1c1c","#f5a01a","#909090","#000000"]},"legend":null}}},
   {"data":{"values":[
     {"t":-277,"v":236,"text":"express error","hue":"black"},
     {"t":-277,"v":186,"text":"correct anti","hue":"black"}
    ]},
    "mark":{"type":"text","fontSize":15,"baseline":"middle","align":"left"},
    "encoding":{"x":{"field":"t","type":"quantitative","title":null},"y":{"field":"v","type":"quantitative","title":"firing rate (Hz)"},"text":{"field":"text"},"color":{"field":"hue","type":"nominal","scale":{"domain":["blue","red","orange","gray","black"],"range":["#1616e0","#ee1c1c","#f5a01a","#909090","#000000"]},"legend":null}}},
   {"data":{"values":[
     {"t":90,"v":420,"text":"70-110","hue":"gray"}
    ]},
    "mark":{"type":"text","fontSize":15,"baseline":"middle"},
    "encoding":{"x":{"field":"t","type":"quantitative","title":null},"y":{"field":"v","type":"quantitative","title":"firing rate (Hz)"},"text":{"field":"text"},"color":{"field":"hue","type":"nominal","scale":{"domain":["blue","red","orange","gray","black"],"range":["#1616e0","#ee1c1c","#f5a01a","#909090","#000000"]},"legend":null}}}
  ]
 },
 {
  "width":260,"height":176,
  "layer":[
   {"data":{"name":"band"},"mark":{"type":"rect","color":"#d4d4d4"},"encoding":{"x":{"field":"start","type":"quantitative","title":null,"scale":{"domain":[-400,400],"nice":false},"axis":{"values":[-400,-200,0,200,400]}},"x2":{"field":"end"}}},
   {"data":{"name":"d"},"transform":[{"filter":"datum.t<=-60"}],"mark":{"type":"area","color":"#ffff00","opacity":1},"encoding":{"x":{"field":"t","type":"quantitative","title":null},"y":{"field":"red","type":"quantitative","title":"firing rate (Hz)","scale":{"domain":[0,75],"nice":false},"axis":{"values":[0,25,50,75]}},"y2":{"field":"blue"}}},
   {"data":{"name":"d"},"mark":{"type":"line","color":"#1616e0","strokeWidth":3,"strokeJoin":"round"},"encoding":{"x":{"field":"t","type":"quantitative","title":null},"y":{"field":"blue","type":"quantitative","title":"firing rate (Hz)"}}},
   {"data":{"name":"d"},"mark":{"type":"line","color":"#ee1c1c","strokeWidth":3,"strokeJoin":"round"},"encoding":{"x":{"field":"t","type":"quantitative","title":null},"y":{"field":"red","type":"quantitative","title":"firing rate (Hz)"}}},
   {"data":{"values":[
     {"t":-378,"t2":-341,"v":67,"hue":"red"},
     {"t":-378,"t2":-341,"v":16.7,"hue":"blue"}
    ]},
    "mark":{"type":"rule","strokeWidth":2.5},
    "encoding":{"x":{"field":"t","type":"quantitative","title":null},"x2":{"field":"t2"},"y":{"field":"v","type":"quantitative","title":"firing rate (Hz)"},"color":{"field":"hue","type":"nominal","scale":{"domain":["blue","red","orange","gray","black"],"range":["#1616e0","#ee1c1c","#f5a01a","#909090","#000000"]},"legend":null}}},
   {"data":{"values":[
     {"t":-329,"v":67,"text":"correct anti","hue":"black"},
     {"t":-329,"v":16.7,"text":"correct pro","hue":"black"}
    ]},
    "mark":{"type":"text","fontSize":15,"baseline":"middle","align":"left"},
    "encoding":{"x":{"field":"t","type":"quantitative","title":null},"y":{"field":"v","type":"quantitative","title":"firing rate (Hz)"},"text":{"field":"text"},"color":{"field":"hue","type":"nominal","scale":{"domain":["blue","red","orange","gray","black"],"range":["#1616e0","#ee1c1c","#f5a01a","#909090","#000000"]},"legend":null}}},
   {"data":{"values":[
     {"t":90,"v":79.3,"text":"70-110","hue":"gray"}
    ]},
    "mark":{"type":"text","fontSize":15,"baseline":"middle"},
    "encoding":{"x":{"field":"t","type":"quantitative","title":null},"y":{"field":"v","type":"quantitative","title":"firing rate (Hz)"},"text":{"field":"text"},"color":{"field":"hue","type":"nominal","scale":{"domain":["blue","red","orange","gray","black"],"range":["#1616e0","#ee1c1c","#f5a01a","#909090","#000000"]},"legend":null}}}
  ]
 },
 {
  "width":260,"height":66,
  "data":{"name":"timeline"},
  "encoding":{
   "x":{"field":"start","type":"quantitative","scale":{"domain":[-400,400],"nice":false},"axis":null},
   "x2":{"field":"end"}
  },
  "layer":[
   {"mark":{"type":"rule","color":"#000","strokeWidth":1.2},"encoding":{"y":{"field":"signal","type":"nominal","bandPosition":1,"scale":{"type":"band","domain":["fix","stim"],"paddingInner":0.43,"paddingOuter":1.1,"align":0.935},"axis":{"title":null,"domain":false,"ticks":false,"labelColor":"#000","labelFontSize":15,"labelPadding":4}}}},
   {"transform":[{"filter":"datum.state==='on'"}],"mark":{"type":"rect","color":"#000"},"encoding":{"y":{"field":"signal","type":"nominal","scale":{"type":"band","domain":["fix","stim"],"paddingInner":0.43,"paddingOuter":1.1,"align":0.935},"axis":{"title":null,"domain":false,"ticks":false,"labelColor":"#000","labelFontSize":15,"labelPadding":4}}}}
  ]
 },
 {
  "width":260,"height":66,
  "data":{"name":"timeline"},
  "encoding":{
   "x":{"field":"start","type":"quantitative","scale":{"domain":[-375,425],"nice":false},"axis":null},
   "x2":{"field":"end"}
  },
  "layer":[
   {"mark":{"type":"rule","color":"#000","strokeWidth":1.2},"encoding":{"y":{"field":"signal","type":"nominal","bandPosition":1,"scale":{"type":"band","domain":["fix","stim"],"paddingInner":0.43,"paddingOuter":1.1,"align":0.935},"axis":null}}},
   {"transform":[{"filter":"datum.state==='on'"}],"mark":{"type":"rect","color":"#000"},"encoding":{"y":{"field":"signal","type":"nominal","scale":{"type":"band","domain":["fix","stim"],"paddingInner":0.43,"paddingOuter":1.1,"align":0.935},"axis":null}}}
  ]
 }
]
}
